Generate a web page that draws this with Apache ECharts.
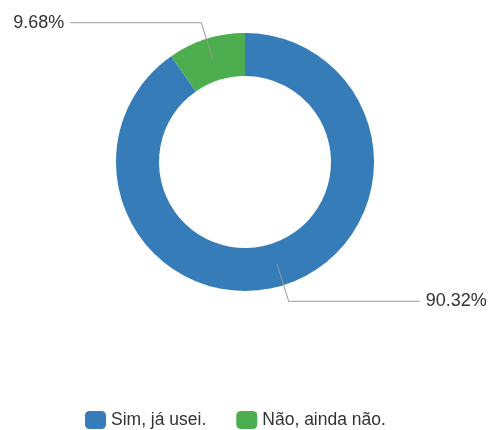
<!DOCTYPE html>
<html>
<head>
<meta charset="utf-8">
<script src="https://cdn.jsdelivr.net/npm/echarts@6/dist/echarts.min.js"></script>
<style>
html,body{margin:0;padding:0;background:#fff;}
#chart{width:488px;height:430px;}
</style>
</head>
<body>
<div id="chart"></div>
<script>
const categories = ['Sim, já usei.', 'Não, ainda não.'];
const values = [90.32, 9.68];
const colors = ['#367cb8', '#4cae4f'];

const data = categories.map((name, i) => ({ name: name, value: values[i] }));

const chart = echarts.init(document.getElementById('chart'), null, { renderer: 'canvas' });
chart.setOption({
  animation: false,
  color: colors,
  legend: {
    data: categories,
    left: 85,
    bottom: 1,
    padding: 0,
    itemWidth: 21,
    itemHeight: 18,
    itemGap: 30,
    icon: 'roundRect',
    textStyle: { fontFamily: 'Liberation Sans, Arial, sans-serif', fontSize: 17.5, color: '#333' }
  },
  series: [
    {
      type: 'pie',
      z: 1,
      center: [245, 162],
      radius: [86, 129],
      startAngle: 90,
      clockwise: true,
      silent: true,
      avoidLabelOverlap: false,
      label: { show: false },
      labelLine: { show: false },
      itemStyle: { borderWidth: 0 },
      data: data
    },
    {
      type: 'pie',
      z: 5,
      center: [245, 162],
      radius: [0, 107],
      startAngle: 90,
      clockwise: true,
      silent: true,
      avoidLabelOverlap: false,
      itemStyle: { color: 'transparent', borderWidth: 0 },
      label: {
        show: true,
        position: 'outside',
        formatter: '{c}%',
        color: '#333',
        fontFamily: 'Liberation Sans, Arial, sans-serif',
        fontSize: 18,
        distanceToLabelLine: 6
      },
      labelLine: {
        show: true,
        length: 39,
        length2: 131,
        lineStyle: { color: '#999', width: 1 }
      },
      emphasis: { disabled: true },
      data: data
    }
  ]
});
</script>
</body>
</html>
